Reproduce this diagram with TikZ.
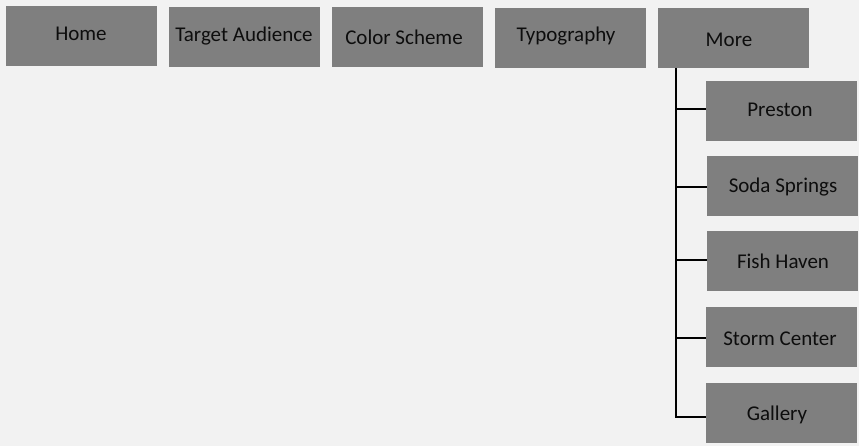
\documentclass[tikz,border=0pt]{standalone}
\usepackage{fontspec}
\setmainfont{Carlito}
\definecolor{bg}{HTML}{F2F2F2}
\definecolor{boxgray}{HTML}{7F7F7F}
\definecolor{txt}{HTML}{0D0D0D}
\begin{document}
\begin{tikzpicture}[x=1pt,y=-1pt,
  menubox/.style={fill=boxgray, draw=none, minimum width=151pt, minimum height=60pt, inner sep=0pt, anchor=north west},
  lbl/.style={text=txt, font=\fontsize{21}{25}\selectfont, inner sep=0pt},
  conn/.style={draw=black, line width=1.4pt}]
\fill[bg] (0,0) rectangle (859,446);
\useasboundingbox (0,0) rectangle (859,446);
% top row
\node[menubox] (home) at (6,6) {};
\node[menubox] (target) at (169,7) {};
\node[menubox] (color) at (332,7) {};
\node[menubox] (typo) at (495,8) {};
\node[menubox] (more) at (658,8) {};
% sub items
\node[menubox] (preston) at (706,81) {};
\node[menubox] (soda) at (707,156) {};
\node[menubox] (fish) at (707,231) {};
\node[menubox] (storm) at (706,307) {};
\node[menubox] (gallery) at (706,383) {};
% labels
\node[lbl] (thome) at (81,34) {Home};
\node[lbl] (ttarget) at (244,36) {Target Audience};
\node[lbl] (tcolor) at (404,37) {Color Scheme};
\node[lbl] (ttypo) at (566,36) {Typography};
\node[lbl] (tmore) at (729,40) {More};
\node[lbl] (tpreston) at (780,110) {Preston};
\node[lbl] (tsoda) at (783,187) {Soda Springs};
\node[lbl] (tfish) at (783,261) {Fish Haven};
\node[lbl] (tstorm) at (780,339) {Storm Center};
\node[lbl] (tgallery) at (777,415) {Gallery};
% connectors
\coordinate (trunk) at (676,68);
\coordinate (jp) at (676,109);
\coordinate (js) at (676,187);
\coordinate (jf) at (676,260);
\coordinate (jst) at (676,338);
\coordinate (jg) at (676,417);
\draw[conn] (trunk) -- (jg) -- (jg -| gallery.west);
\draw[conn] (jp) -- (jp -| preston.west);
\draw[conn] (js) -- (js -| soda.west);
\draw[conn] (jf) -- (jf -| fish.west);
\draw[conn] (jst) -- (jst -| storm.west);
\end{tikzpicture}
\end{document}
